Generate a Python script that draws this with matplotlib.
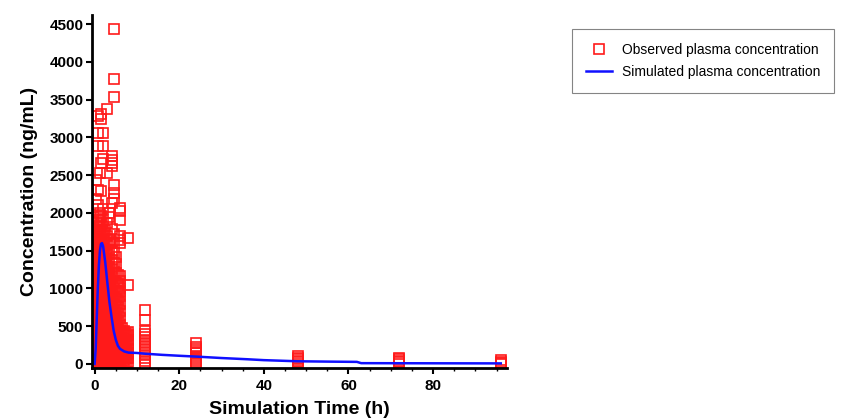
import numpy as np
import matplotlib
matplotlib.use('Agg')
import matplotlib.pyplot as plt
from matplotlib.ticker import MultipleLocator

plt.rcParams['font.family'] = 'Liberation Sans'

# observed concentrations (ng/mL) by nominal sampling time (h)
c_0h = [0, 5, 15, 30, 50, 80, 120]
c_0h25 = [0, 40, 100, 160, 220, 290, 350, 410, 480, 540, 600, 670, 730, 800, 860, 930,
          1000, 1080, 1160, 1250, 1340, 1440, 1560, 1670, 2185, 2440]
c_0h5 = [10, 70, 130, 190, 260, 320, 380, 450, 510, 570, 640, 700, 760, 830, 890, 960,
         1030, 1110, 1200, 1300, 1390, 1480, 1620, 1750, 1880]
c_0h75 = [20, 60, 120, 180, 240, 300, 370, 430, 500, 560, 620, 690, 750, 820, 880, 950,
          1020, 1090, 1170, 1260, 1350, 1450, 1540, 1650, 1790, 1950, 2110, 2310, 2885, 3055, 3280]
c_1h = [0, 50, 110, 170, 230, 280, 340, 400, 460, 520, 590, 650, 710, 780, 840, 900,
        970, 1050, 1130, 1210, 1300, 1400, 1500, 1590, 1700, 1830, 1910]
c_1h25 = [30, 90, 150, 200, 260, 330, 390, 440, 500, 550, 610, 680, 740, 790, 850, 920,
          990, 1060, 1150, 1240, 1330, 1420, 1530, 1640, 1760, 1820, 2000, 2530]
c_1h5 = [15, 80, 140, 210, 270, 330, 400, 460, 520, 580, 650, 710, 770, 840, 910, 980,
         1060, 1140, 1220, 1310, 1410, 1520, 1620, 1720, 1850, 1960, 2290, 2665, 3250, 3305]
c_1h75 = [5, 45, 95, 155, 215, 265, 325, 385, 445, 505, 565, 625, 695, 765, 835, 905,
          985, 1065, 1145, 1235, 1325, 1415]
c_2h = [0, 60, 120, 180, 250, 310, 370, 430, 490, 550, 620, 680, 740, 810, 870, 940,
        1010, 1080, 1160, 1240, 1330, 1430, 1530, 1650, 1760, 1900, 2050, 2720, 2885, 3055]
c_2h25 = [25, 85, 145, 205, 275, 335, 395, 455, 525, 585, 645, 715, 775, 845, 915, 995,
          1075, 1165, 1255, 1345]
c_2h5 = [40, 100, 160, 230, 290, 350, 410, 470, 540, 600, 660, 720, 790, 850, 920, 990,
         1070, 1150, 1250, 1360, 1480, 1600, 1780]
c_2h75 = [5, 55, 115, 175, 235, 295, 355, 420, 485, 545, 605, 675, 735, 805, 875, 955,
          1035, 1125, 1215, 1310]
c_3h = [20, 80, 140, 200, 260, 320, 380, 450, 510, 570, 630, 700, 760, 830, 900, 980,
        1060, 1150, 1240, 1340, 1460, 1580, 1700, 1870, 2530, 3380]
c_3h25 = [45, 105, 165, 225, 285, 345, 410, 470, 535, 595, 655, 725, 795, 865, 940, 1020,
          1110, 1200]
c_3h5 = [10, 70, 130, 190, 250, 310, 370, 440, 500, 560, 620, 690, 760, 830, 900, 980,
         1070, 1170, 1280, 1390, 1510, 1640, 1950, 2000]
c_3h75 = [35, 95, 155, 215, 280, 345, 415, 480, 550, 615, 685, 755, 835, 915, 1005, 1100]
c_4h = [30, 90, 150, 210, 270, 340, 400, 460, 530, 590, 660, 730, 800, 880, 960, 1050,
        1150, 1260, 1380, 1500, 1620, 1790, 2130, 2620, 2660, 2700, 2750]
c_4h5 = [0, 60, 120, 180, 240, 300, 370, 430, 500, 570, 640, 720, 800, 890, 990, 1100,
         1220, 1340, 1470, 1600, 1720, 2180, 2270, 2375, 3540, 3780, 4430]
c_5h = [20, 80, 140, 200, 260, 330, 390, 450, 520, 600, 680, 770, 860, 960, 1070, 1200, 1320, 1420]
c_5h5 = [40, 100, 160, 220, 290, 350, 420, 500, 580, 670, 760, 850, 950, 1060, 1180]
c_6h = [10, 70, 130, 190, 250, 310, 380, 440, 520, 610, 700, 800, 900, 950, 1000, 1100,
        1160, 1600, 1640, 1690, 1910, 2020, 2070]
c_6h5 = [35, 95, 155, 215, 275, 335, 400, 470]
c_7h = [0, 50, 100, 160, 220, 280, 340, 400, 430]
c_7h5 = [25, 75, 130, 190, 250, 310, 370, 415]
c_8h = [20, 80, 140, 200, 260, 320, 380, 420, 1050, 1670]
c_12h = [0, 40, 80, 120, 160, 200, 240, 280, 320, 360, 400, 430, 580, 720]
c_24h = [0, 20, 50, 80, 110, 140, 170, 200, 230, 275]
c_48h = [0, 20, 40, 60, 80, 100]
c_72h = [0, 20, 40, 60, 80]
c_96h = [0, 15, 30, 50]

obs_times = [0, 0.25, 0.5, 0.75, 1, 1.25, 1.5, 1.75, 2, 2.25, 2.5, 2.75, 3, 3.25, 3.5, 3.75,
             4, 4.5, 5, 5.5, 6, 6.5, 7, 7.5, 8, 12, 24, 48, 72, 96]
obs_groups = [c_0h, c_0h25, c_0h5, c_0h75, c_1h, c_1h25, c_1h5, c_1h75, c_2h, c_2h25, c_2h5,
              c_2h75, c_3h, c_3h25, c_3h5, c_3h75, c_4h, c_4h5, c_5h, c_5h5, c_6h, c_6h5,
              c_7h, c_7h5, c_8h, c_12h, c_24h, c_48h, c_72h, c_96h]

# simulated profile
sim_t = [0, 0.25, 0.5, 0.75, 1, 1.25, 1.5, 1.75, 2, 2.5, 3, 3.5, 4, 4.5, 5, 5.5, 6, 7, 8,
         10, 12, 16, 20, 24, 30, 36, 40, 48, 56, 62, 63, 72, 84, 96]
sim_c = [0, 200, 600, 1000, 1300, 1500, 1590, 1600, 1560, 1350, 1080, 820, 620, 440, 320,
         240, 200, 165, 150, 145, 135, 120, 108, 97, 78, 62, 50, 35, 30, 27, 10, 9, 8, 7]

obs_x = np.concatenate([[t] * len(g) for t, g in zip(obs_times, obs_groups)])
obs_y = np.concatenate([np.asarray(g, dtype=float) for g in obs_groups])

fig = plt.figure(figsize=(8.41, 4.20), dpi=100)
ax = fig.add_axes([0.109, 0.124, 0.494, 0.840])

ax.plot(obs_x, obs_y, 's', markersize=6.5, markerfacecolor='none',
        markeredgecolor='#ff1a1a', markeredgewidth=1.2, label='Observed plasma concentration')
ax.plot(sim_t, sim_c, '-', color='#1010ff', linewidth=1.8, label='Simulated plasma concentration')

ax.set_xlim(-0.7, 97.5)
ax.set_ylim(-53, 4620)
ax.xaxis.set_major_locator(MultipleLocator(20))
ax.xaxis.set_minor_locator(MultipleLocator(5))
ax.yaxis.set_major_locator(MultipleLocator(500))

for s in ['top', 'right']:
    ax.spines[s].set_visible(False)
for s in ['left', 'bottom']:
    ax.spines[s].set_linewidth(2)

ax.tick_params(axis='both', which='major', direction='out', length=4, width=1.5,
               labelsize=11, pad=2)
ax.tick_params(axis='x', which='major', pad=4)
ax.tick_params(axis='x', which='minor', direction='out', length=2.5, width=1)
for lab in ax.get_xticklabels() + ax.get_yticklabels():
    lab.set_fontweight('bold')

ax.set_xlabel('Simulation Time (h)', fontsize=14, fontweight='bold', labelpad=6)
ax.set_ylabel('Concentration (ng/mL)', fontsize=14, fontweight='bold', labelpad=8)

leg = fig.legend(loc='upper left', bbox_to_anchor=(0.672, 0.948), fontsize=10,
                 frameon=True, fancybox=False, edgecolor='#666666', borderpad=1.0,
                 handlelength=1.9, labelspacing=0.6, handletextpad=0.7)
leg.get_frame().set_linewidth(0.8)

plt.savefig('out.png', dpi=100)
